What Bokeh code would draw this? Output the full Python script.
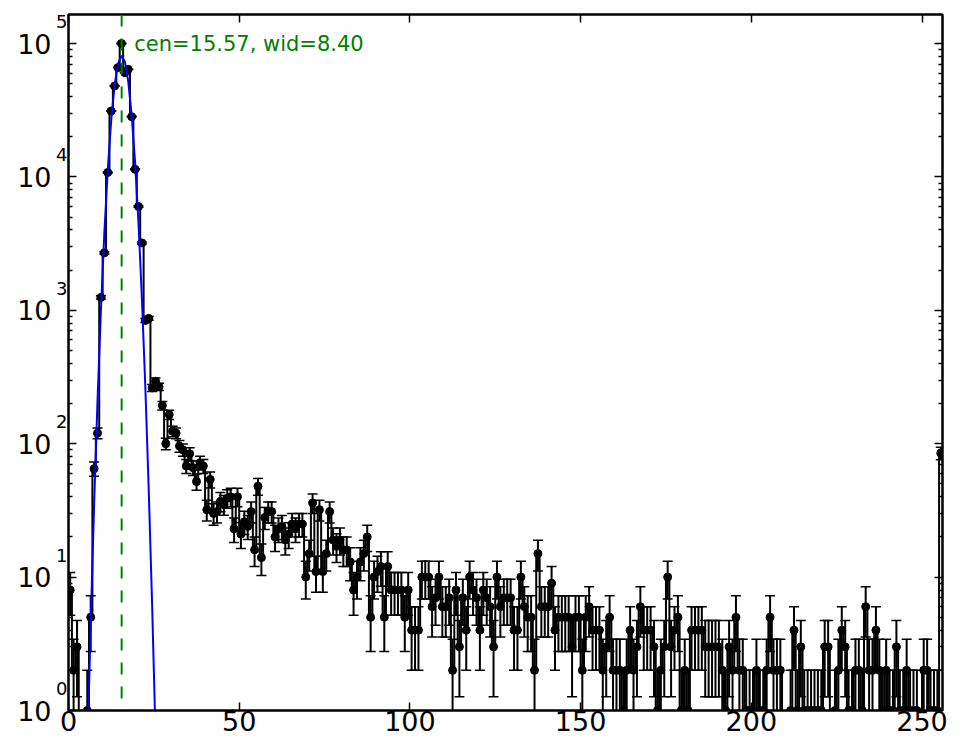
import math
from bokeh.plotting import figure
from bokeh.models import Range1d, LogAxis, LinearAxis, Span, Label, FixedTicker
from bokeh.embed import file_html
from bokeh.resources import INLINE

# ---------------- data ----------------
counts = [
    8, 2, 3, 0, 0, 1, 5, 65, 120, 1250,
    2700, 10800, 31200, 48000, 66000, 100000, 60500, 64000, 28300, 11400,
    6000, 3200, 840, 870, 262, 294, 267, 193, 100, 165,
    124, 120, 96, 90, 68, 84, 66, 52, 72, 68,
    32, 54, 30, 31, 37, 35, 39, 40, 23, 40,
    21, 26, 24, 31, 16, 48, 14, 28, 31, 31,
    20, 23, 24, 19, 21, 25, 23, 25, 25, 10,
    15, 36, 11, 32, 11, 15, 31, 19, 17, 19,
    16, 16, 13, 8, 10, 13, 15, 20, 5, 10,
    11, 12, 5, 12, 8, 8, 8, 8, 5, 8,
    4, 4, 4, 10, 10, 10, 6, 7, 10, 6,
    6, 7, 2, 8, 3, 7, 4, 10, 8, 7,
    4, 8, 7, 6, 3, 10, 6, 7, 7, 7,
    4, 4, 10, 6, 5, 5, 2, 15, 6, 6,
    6, 9, 4, 5, 5, 5, 5, 3, 5, 5,
    2, 5, 6, 4, 4, 4, 2, 3, 5, 2,
    2, 2, 1, 2, 4, 2, 3, 6, 4, 4,
    4, 3, 1, 2, 3, 10, 3, 4, 5, 1,
    2, 1, 4, 4, 4, 4, 3, 3, 3, 3,
    3, 2, 1, 3, 2, 5, 2, 2, 1, 1,
    1, 2, 1, 1, 2, 5, 2, 2, 2, 0,
    0, 1, 4, 1, 3, 1, 1, 1, 1, 1,
    1, 3, 3, 0, 1, 2, 4, 3, 1, 1,
    2, 2, 1, 6, 2, 2, 4, 2, 1, 2,
    1, 1, 3, 1, 1, 2, 1, 1, 1, 0,
    2, 2, 1, 1, 1, 85,
]
bin_x = [i + 0.5 for i in range(len(counts))]

fit_x = [3.5, 4.5, 5.5, 6.5, 7.5, 8.5, 9.5, 10.5, 11.5, 12.5, 13.5, 14.5, 15.5,
         16.5, 17.5, 18.5, 19.5, 20.5, 21.5, 22.5, 23.5, 24.5, 25.5, 26.5, 27.5]
fit_y = [0.0024, 0.037, 0.46, 4.5, 35, 211, 1010, 3800, 11270, 26400, 48600, 70700, 81000,
         73100, 52000, 29100, 12900, 4490, 1230, 267, 45, 6.1, 0.64, 0.054, 0.0036]

fit_cen = 15.57
fit_text = "cen=15.57, wid=8.40"

x_ticks = [0, 50, 100, 150, 200, 250]
y_ticks = [1, 10, 100, 1000, 10000, 100000]
y_exponents = ["0", "1", "2", "3", "4", "5"]
y_minor = [k * 10 ** d for d in range(0, 6) for k in range(2, 10)]

FONT = "DejaVu Sans"
FLOOR = 1e-3
EXP_RAISE = 1.463   # exponent sits ~22px (0.165 decade) above its tick

# ---------------- derived ----------------
step_y = [c if c > 0 else FLOOR for c in counts]
pos = [(x, c) for x, c in zip(bin_x, counts) if c > 0]
pt_x = [x for x, _ in pos]
pt_y = [c for _, c in pos]
err_lo = [max(c - math.sqrt(c), FLOOR) for c in pt_y]
err_hi = [c + math.sqrt(c) for c in pt_y]
lo_cap = [(x, c - math.sqrt(c)) for x, c in pos if c - math.sqrt(c) > 0]

p = figure(width=956, height=748, y_axis_type="log",
           x_range=Range1d(0, 256), y_range=Range1d(1, 1.65e5),
           output_backend="svg", toolbar_location=None,
           min_border_left=68, min_border_top=14, min_border_right=14, min_border_bottom=38)
p.background_fill_color = "white"
p.border_fill_color = "white"
p.outline_line_color = "black"
p.outline_line_width = 2
p.xgrid.visible = False
p.ygrid.visible = False

# bottom axis
xa = p.xaxis[0]
xa.ticker = FixedTicker(ticks=x_ticks, minor_ticks=[])
xa.major_label_text_font = FONT
xa.major_label_text_font_size = "27px"
xa.major_label_text_color = "black"
xa.major_label_standoff = 0
xa.major_tick_in = 8
xa.major_tick_out = 0
xa.minor_tick_line_color = None
xa.axis_line_width = 2
xa.major_tick_line_width = 1.5

hidden = dict(major_label_text_color=None, major_label_text_font_size="2px",
              major_label_standoff=0)

# left axis (innermost): ticks only
ya = p.yaxis[0]
ya.ticker = FixedTicker(ticks=y_ticks, minor_ticks=y_minor)
ya.major_label_overrides = {t: " " for t in y_ticks}
for k, v in hidden.items():
    setattr(ya, k, v)
ya.major_tick_in = 8
ya.major_tick_out = 0
ya.minor_tick_in = 4
ya.minor_tick_out = 0
ya.axis_line_width = 2
ya.major_tick_line_width = 1.5
ya.minor_tick_line_width = 1.5

# left: exponent labels (next to the frame)
exp_axis = LogAxis(ticker=FixedTicker(ticks=[t * EXP_RAISE for t in y_ticks], minor_ticks=[]),
                   major_label_overrides={t * EXP_RAISE: e for t, e in zip(y_ticks, y_exponents)},
                   major_label_text_font=FONT, major_label_text_font_size="18px",
                   major_label_text_color="black", major_label_standoff=-5,
                   axis_line_color=None, major_tick_line_color=None, minor_tick_line_color=None)
p.add_layout(exp_axis, "left")

# left: the "10" mantissas (outermost)
man_axis = LogAxis(ticker=FixedTicker(ticks=y_ticks, minor_ticks=[]),
                   major_label_overrides={t: "10" for t in y_ticks},
                   major_label_text_font=FONT, major_label_text_font_size="27px",
                   major_label_text_color="black", major_label_standoff=-4,
                   axis_line_color=None, major_tick_line_color=None, minor_tick_line_color=None)
p.add_layout(man_axis, "left")

# right and top tick-only axes
ra = LogAxis(ticker=FixedTicker(ticks=y_ticks, minor_ticks=y_minor),
             major_label_overrides={t: " " for t in y_ticks},
             major_tick_in=8, major_tick_out=0, minor_tick_in=4, minor_tick_out=0,
             axis_line_width=2, major_tick_line_width=1.5, minor_tick_line_width=1.5, **hidden)
p.add_layout(ra, "right")
ta = LinearAxis(ticker=FixedTicker(ticks=x_ticks, minor_ticks=[]),
                major_label_overrides={t: " " for t in x_ticks},
                major_tick_in=8, major_tick_out=0, minor_tick_line_color=None,
                axis_line_width=2, major_tick_line_width=1.5, **hidden)
p.add_layout(ta, "above")

# data marks
p.step(x=bin_x, y=step_y, mode="center", line_color="black", line_width=2)
p.segment(x0=pt_x, y0=err_lo, x1=pt_x, y1=err_hi, line_color="black", line_width=2)
p.scatter(x=pt_x, y=err_hi, marker="dash", size=10, line_color="black", line_width=1.5)
p.scatter(x=[a for a, _ in lo_cap], y=[b for _, b in lo_cap], marker="dash", size=10,
          line_color="black", line_width=1.5)
p.scatter(x=pt_x, y=pt_y, marker="circle", size=8, fill_color="black", line_color="black")

p.line(x=fit_x, y=fit_y, line_color="blue", line_width=2)

p.add_layout(Span(location=fit_cen, dimension="height", line_color="green",
                  line_dash="12 12", line_width=2))

p.add_layout(Label(x=19.24, y=1e5, text=fit_text, text_color="green",
                   text_font=FONT, text_font_size="21px", text_baseline="alphabetic",
                   text_align="left"))

open("out.html", "w").write(file_html(p, INLINE))
